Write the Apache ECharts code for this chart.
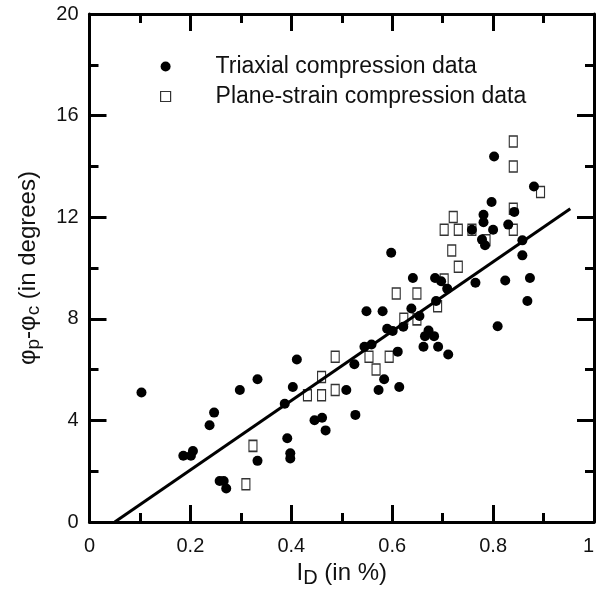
<!DOCTYPE html>
<html><head><meta charset="utf-8">
<script src="https://cdn.jsdelivr.net/npm/echarts@6/dist/echarts.min.js"></script>
<style>html,body{margin:0;padding:0;background:#fff}#c{width:597px;height:593px}</style>
</head><body><div id="c"></div>
<script>
const xTicks = [0, 0.2, 0.4, 0.6, 0.8, 1];
const yTicks = [0, 4, 8, 12, 16, 20];
const triaxialX = [0.802,0.881,0.797,0.842,0.781,0.781,0.830,0.758,0.800,0.778,0.784,0.858,0.598,0.858,0.641,0.685,0.697,0.709,0.765,0.824,0.873,0.868,0.549,0.581,0.638,0.687,0.654,0.590,0.601,0.622,0.672,0.665,0.683,0.662,0.691,0.711,0.809,0.545,0.559,0.611,0.411,0.525,0.333,0.584,0.103,0.298,0.403,0.509,0.573,0.614,0.387,0.247,0.238,0.446,0.461,0.468,0.527,0.392,0.398,0.398,0.333,0.186,0.205,0.201,0.258,0.266,0.271];
const triaxialY = [14.39,13.21,12.60,12.21,12.10,11.80,11.71,11.51,11.51,11.12,10.90,11.09,10.60,10.50,9.61,9.61,9.48,9.19,9.42,9.51,9.61,8.70,8.30,8.30,8.41,8.70,8.11,7.61,7.52,7.69,7.54,7.32,7.32,6.90,6.90,6.60,7.71,6.90,6.99,6.71,6.40,6.21,5.62,5.62,5.10,5.20,5.32,5.20,5.20,5.32,4.66,4.31,3.81,4.01,4.11,3.61,4.22,3.30,2.71,2.50,2.41,2.61,2.80,2.61,1.62,1.62,1.32];
const planeX = [0.840,0.840,0.894,0.840,0.721,0.703,0.731,0.758,0.840,0.786,0.718,0.731,0.703,0.608,0.649,0.690,0.623,0.649,0.487,0.554,0.594,0.568,0.460,0.487,0.432,0.460,0.324,0.310];
const planeY = [14.98,14.00,12.99,12.33,12.01,11.51,11.51,11.51,11.51,11.09,10.69,10.05,9.55,9.00,9.00,8.50,8.00,7.98,6.51,6.51,6.51,6.01,5.71,5.20,4.99,4.99,3.00,1.49];
const fitX = [0.05, 0.953];
const fitY = [0, 12.33];

const zip = (a, b) => a.map((v, i) => [v, b[i]]);
const chart = echarts.init(document.getElementById('c'), null, {renderer: 'canvas'});
const font = 'Liberation Sans, Arial, Helvetica, sans-serif';
function axis(onZeroIdx, extra) {
  return Object.assign({
    type: 'value',
    axisLine: {show: true, onZero: true, onZeroAxisIndex: onZeroIdx, lineStyle: {color: '#000', width: 3}},
    axisTick: {show: true, inside: true, length: 17, lineStyle: {color: '#000', width: 3}},
    minorTick: {show: true, splitNumber: 2, length: 9, lineStyle: {color: '#000', width: 3}},
    splitLine: {show: false}
  }, extra);
}
chart.setOption({
  animation: false,
  backgroundColor: '#fff',
  grid: {left: 89.5, right: 2, top: 14, bottom: 70},
  legend: {
    orient: 'vertical', left: 155, top: 50, itemGap: 7,
    itemWidth: 10, itemHeight: 10,
    textStyle: {fontFamily: font, fontSize: 23, color: '#111', padding: [0, 0, 0, 40], lineHeight: 23},
    data: [
      {name: 'Triaxial compression data', icon: 'circle', itemStyle: {color: '#000', opacity: 1}},
      {name: 'Plane-strain compression data', icon: 'rect', itemStyle: {color: '#fff', borderColor: '#333', borderWidth: 1.2}}
    ]
  },
  xAxis: [
    axis(0, {
      min: xTicks[0], max: xTicks[xTicks.length - 1], interval: 0.2, position: 'bottom',
      axisLabel: {fontFamily: font, fontSize: 20, color: '#111', margin: 14, alignMaxLabel: 'right'},
      name: '{n|I}{s|D}{n| (in %)}', nameLocation: 'middle', nameGap: 34,
      nameTextStyle: {fontFamily: font, color: '#111', rich: {
        n: {fontFamily: font, fontSize: 24, color: '#111'},
        s: {fontFamily: font, fontSize: 20, color: '#111', padding: [10, 0, 0, 0]}
      }}
    }),
    axis(1, {min: 0, max: 1, interval: 0.2, position: 'top', inverse: true, axisLabel: {show: false}})
  ],
  yAxis: [
    axis(0, {
      min: yTicks[0], max: yTicks[yTicks.length - 1], interval: 4, position: 'left',
      axisLabel: {fontFamily: font, fontSize: 20, color: '#111', margin: 11},
      name: '{n|φ}{s|p}{n|-φ}{s|c}{n| (in degrees)}', nameLocation: 'middle', nameGap: 46, nameRotate: 90,
      nameTextStyle: {fontFamily: font, color: '#111', rich: {
        n: {fontFamily: font, fontSize: 24, color: '#111'},
        s: {fontFamily: font, fontSize: 19, color: '#111', padding: [11, 0, 0, 0]}
      }}
    }),
    axis(1, {min: 0, max: 20, interval: 4, position: 'right', inverse: true, axisLabel: {show: false}})
  ],
  series: [
    {name: 'Plane-strain compression data', type: 'scatter', symbol: 'rect', symbolSize: [8, 11],
      itemStyle: {color: '#fff', borderColor: '#333', borderWidth: 1.3, opacity: 1}, data: zip(planeX, planeY), z: 2},
    {name: 'Triaxial compression data', type: 'scatter', symbol: 'circle', symbolSize: 10,
      itemStyle: {color: '#000', opacity: 1}, data: zip(triaxialX, triaxialY), z: 3},
    {name: 'fit', type: 'line', data: zip(fitX, fitY), symbol: 'none',
      lineStyle: {color: '#000', width: 3}, z: 4}
  ]
});
</script></body></html>
